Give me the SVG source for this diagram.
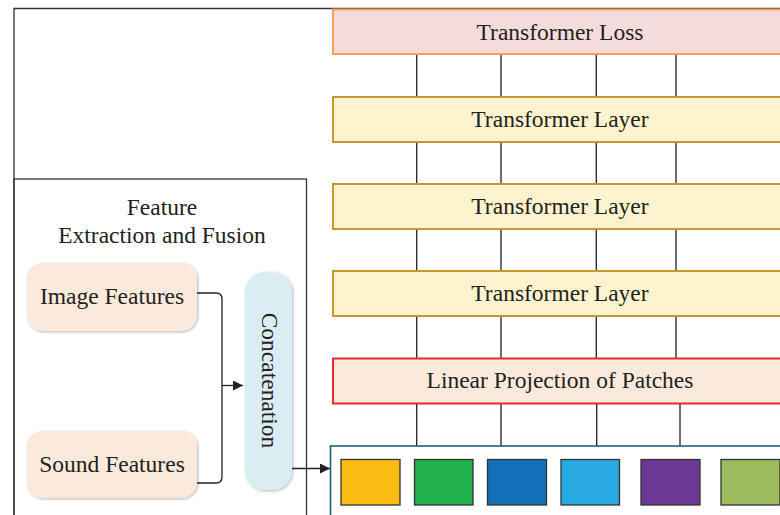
<svg xmlns="http://www.w3.org/2000/svg" width="780" height="515" viewBox="0 0 780 515">
  <style>
    .lbl { font-family: "Liberation Serif", "Times New Roman", serif; font-size: 23.5px; fill: #231f20; }
    .frame { fill: none; stroke: #333; stroke-width: 1.3; }
    .wire { fill: none; stroke: #222; stroke-width: 1.3; }
    .bar-loss { fill: #f4dcdc; stroke: #f79f5b; stroke-width: 2; }
    .bar-layer { fill: #fdf3cf; stroke: #c4972f; stroke-width: 2; }
    .bar-proj { fill: #fbe9dc; stroke: #e8282a; stroke-width: 2; }
    .feat { fill: #fbeadb; filter: url(#soft); }
    .concat { fill: #daedf3; filter: url(#soft); }
    .patch { stroke: #333; stroke-width: 1.3; }
  </style>
  <defs>
    <filter id="soft" x="-20%" y="-20%" width="140%" height="140%">
      <feDropShadow dx="1" dy="1" stdDeviation="1.5" flood-color="#000" flood-opacity="0.3"/>
    </filter>
    <marker id="arrow" viewBox="0 0 10 10" refX="10" refY="5" markerWidth="11" markerHeight="10" markerUnits="userSpaceOnUse" orient="auto">
      <path d="M0,0 L10,5 L0,10 z" fill="#222"/>
    </marker>
  </defs>

  <!-- outer frame -->
  <path class="frame" d="M14,515 V8.5 H780"/>

  <!-- feature extraction panel -->
  <g id="fusion-panel">
    <rect class="frame" x="14" y="179" width="292.5" height="345"/>
    <text class="lbl" x="162" y="214.5" text-anchor="middle">Feature</text>
    <text class="lbl" x="162" y="242.5" text-anchor="middle">Extraction and Fusion</text>
  </g>

  <!-- connectors -->
  <g id="connectors">
    <!-- vertical token lines -->
    <path class="wire" d="M416.7,54 V97 M501,54 V97 M596.3,54 V97 M676,54 V97"/>
    <path class="wire" d="M416.7,142 V184 M501,142 V184 M596.3,142 V184 M676,142 V184"/>
    <path class="wire" d="M416.7,229 V271 M501,229 V271 M596.3,229 V271 M676,229 V271"/>
    <path class="wire" d="M416.7,316 V358 M501,316 V358 M596.3,316 V358 M676,316 V358"/>
    <path class="wire" d="M416.7,403 V446 M501,403 V446 M596.7,403 V446 M680,403 V446"/>
    <!-- feature merge -->
    <path class="wire" d="M197,293 H216 Q222,293 222,299 V477 Q222,483 216,483 H197"/>
    <path class="wire" d="M222,385.5 H243" marker-end="url(#arrow)"/>
    <path class="wire" d="M292,468.5 H330" marker-end="url(#arrow)"/>
  </g>

  <!-- transformer stack -->
  <g id="transformer-loss">
    <rect class="bar-loss" x="333" y="9.5" width="460" height="44.5"/>
    <text class="lbl" x="560" y="39.5" text-anchor="middle">Transformer Loss</text>
  </g>
  <g id="transformer-layer-3">
    <rect class="bar-layer" x="333" y="97" width="460" height="45"/>
    <text class="lbl" x="560" y="127" text-anchor="middle">Transformer Layer</text>
  </g>
  <g id="transformer-layer-2">
    <rect class="bar-layer" x="333" y="184" width="460" height="45"/>
    <text class="lbl" x="560" y="214" text-anchor="middle">Transformer Layer</text>
  </g>
  <g id="transformer-layer-1">
    <rect class="bar-layer" x="333" y="271" width="460" height="45"/>
    <text class="lbl" x="560" y="301" text-anchor="middle">Transformer Layer</text>
  </g>
  <g id="linear-projection">
    <rect class="bar-proj" x="333" y="358.5" width="460" height="45"/>
    <text class="lbl" x="560" y="388" text-anchor="middle">Linear Projection of Patches</text>
  </g>

  <!-- patch sequence -->
  <g id="patches">
    <rect x="330.5" y="446" width="470" height="80" fill="#fff" stroke="#1f5f7a" stroke-width="1.6"/>
    <rect class="patch" x="341" y="459.5" width="59" height="45.5" fill="#fbbd14"/>
    <rect class="patch" x="414.5" y="459.5" width="58.5" height="45.5" fill="#21b04b"/>
    <rect class="patch" x="487.5" y="459.5" width="59" height="45.5" fill="#1170b8"/>
    <rect class="patch" x="561" y="459.5" width="58.5" height="45.5" fill="#28aae1"/>
    <rect class="patch" x="641" y="459.5" width="59" height="45.5" fill="#6d3894"/>
    <rect class="patch" x="721" y="459.5" width="59" height="45.5" fill="#9bbb5c"/>
  </g>

  <!-- feature nodes -->
  <g id="image-features">
    <rect class="feat" x="27" y="263" width="170" height="68" rx="16"/>
    <text class="lbl" x="112" y="304" text-anchor="middle">Image Features</text>
  </g>
  <g id="sound-features">
    <rect class="feat" x="27" y="431" width="170" height="67" rx="16"/>
    <text class="lbl" x="112" y="471.5" text-anchor="middle">Sound Features</text>
  </g>
  <g id="concatenation">
    <rect class="concat" x="245" y="272" width="47" height="218" rx="20"/>
    <text class="lbl" transform="translate(261.5,380.5) rotate(90)" text-anchor="middle">Concatenation</text>
  </g>
</svg>
